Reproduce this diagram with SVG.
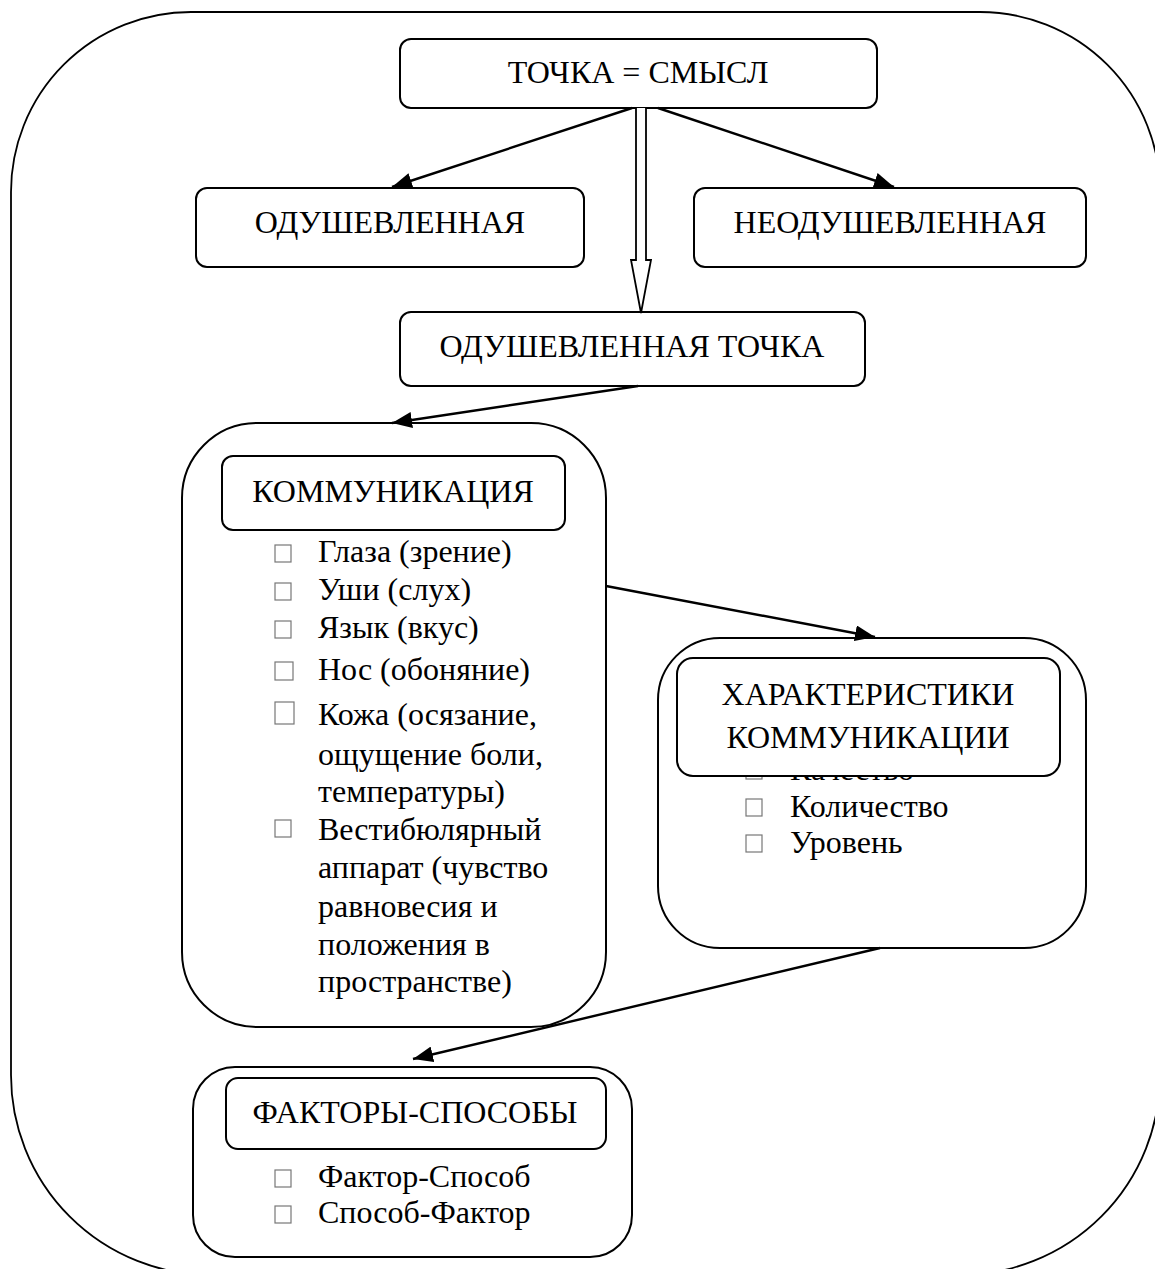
<svg xmlns="http://www.w3.org/2000/svg" width="1155" height="1269" viewBox="0 0 1155 1269">
<style>
.box{fill:#fff;stroke:#000;stroke-width:2}
.t{font-family:"Liberation Serif","Times New Roman",serif;font-size:32px;fill:#000}
.c{text-anchor:middle}
.b{fill:#fff;stroke:#777;stroke-width:1.2}
.ln{fill:none;stroke:#000;stroke-width:2.4}
</style>
<defs>
<marker id="ah" markerUnits="userSpaceOnUse" markerWidth="22" markerHeight="16" refX="20" refY="8" orient="auto">
<path d="M0,0 L20,8 L0,16 Z" fill="#000"/>
</marker>
<clipPath id="below">
<rect x="700" y="777" width="300" height="20"/>
</clipPath>
</defs>
<rect width="1155" height="1269" fill="#fff"/>
<g id="frame">
<path d="M191,12 H980 A180 180 0 0 1 1160,192 V1075 A200 200 0 0 1 960,1275 H211 A200 200 0 0 1 11,1075 V192 A180 180 0 0 1 191,12 Z" fill="none" stroke="#000" stroke-width="1.8"/>
</g>
<g id="n-tochka">
<rect class="box" x="400" y="39" width="477" height="69" rx="11"/>
<text class="t c" x="638" y="83">ТОЧКА = СМЫСЛ</text>
</g>
<g id="n-odush">
<rect class="box" x="196" y="188" width="388" height="79" rx="11"/>
<text class="t c" x="390" y="233">ОДУШЕВЛЕННАЯ</text>
</g>
<g id="n-neodush">
<rect class="box" x="694" y="188" width="392" height="79" rx="11"/>
<text class="t c" x="890" y="233">НЕОДУШЕВЛЕННАЯ</text>
</g>
<g id="n-odush-tochka">
<rect class="box" x="400" y="312" width="465" height="74" rx="11"/>
<text class="t c" x="632" y="357">ОДУШЕВЛЕННАЯ ТОЧКА</text>
</g>
<g id="n-komm">
<rect class="box" x="182" y="423" width="424" height="604" rx="75"/>
<rect class="box" x="222" y="456" width="343" height="74" rx="11"/>
<text class="t c" x="393" y="502">КОММУНИКАЦИЯ</text>
<rect class="b" x="275" y="545" width="16" height="17"/>
<rect class="b" x="275" y="583" width="16" height="17"/>
<rect class="b" x="275" y="621" width="16" height="17"/>
<rect class="b" x="275" y="662" width="18" height="18"/>
<rect class="b" x="275" y="702" width="19" height="22"/>
<rect class="b" x="275" y="820" width="16" height="17"/>
<text class="t" x="318" y="562">Глаза (зрение)</text>
<text class="t" x="318" y="600">Уши (слух)</text>
<text class="t" x="318" y="638">Язык (вкус)</text>
<text class="t" x="318" y="680">Нос (обоняние)</text>
<text class="t" x="318" y="725">Кожа (осязание,</text>
<text class="t" x="318" y="765">ощущение боли,</text>
<text class="t" x="318" y="802">температуры)</text>
<text class="t" x="318" y="840">Вестибюлярный</text>
<text class="t" x="318" y="878">аппарат (чувство</text>
<text class="t" x="318" y="917">равновесия и</text>
<text class="t" x="318" y="955">положения в</text>
<text class="t" x="318" y="992">пространстве)</text>
</g>
<g id="n-harakt">
<rect class="box" x="658" y="638" width="428" height="310" rx="62"/>
<g clip-path="url(#below)">
<rect class="b" x="746" y="762" width="16" height="17"/>
<text class="t" x="790" y="780">Качество</text>
</g>
<rect class="b" x="746" y="799" width="16" height="17"/>
<text class="t" x="790" y="817">Количество</text>
<rect class="b" x="746" y="835" width="16" height="17"/>
<text class="t" x="790" y="853">Уровень</text>
<rect class="box" x="677" y="658" width="383" height="118" rx="16"/>
<text class="t c" x="868" y="705">ХАРАКТЕРИСТИКИ</text>
<text class="t c" x="868" y="748">КОММУНИКАЦИИ</text>
</g>
<g id="n-faktory">
<rect class="box" x="193" y="1067" width="439" height="190" rx="42"/>
<rect class="box" x="226" y="1078" width="380" height="71" rx="12"/>
<text class="t c" x="415" y="1123">ФАКТОРЫ-СПОСОБЫ</text>
<rect class="b" x="275" y="1170" width="16" height="17"/>
<text class="t" x="318" y="1187">Фактор-Способ</text>
<rect class="b" x="275" y="1206" width="16" height="17"/>
<text class="t" x="318" y="1223">Способ-Фактор</text>
</g>
<g id="connectors">
<line class="ln" x1="632" y1="108" x2="392" y2="187" marker-end="url(#ah)"/>
<line class="ln" x1="658" y1="108" x2="894" y2="187" marker-end="url(#ah)"/>
<path d="M636,108 V260 H631 L641,313 L651,260 H646 V108" fill="#fff" stroke="#000" stroke-width="1.8" stroke-linejoin="miter"/>
<line class="ln" x1="638" y1="386" x2="392" y2="423" marker-end="url(#ah)"/>
<line class="ln" x1="606" y1="586" x2="875" y2="637" marker-end="url(#ah)"/>
<line class="ln" x1="880" y1="948" x2="413" y2="1059" marker-end="url(#ah)"/>
</g>
</svg>
